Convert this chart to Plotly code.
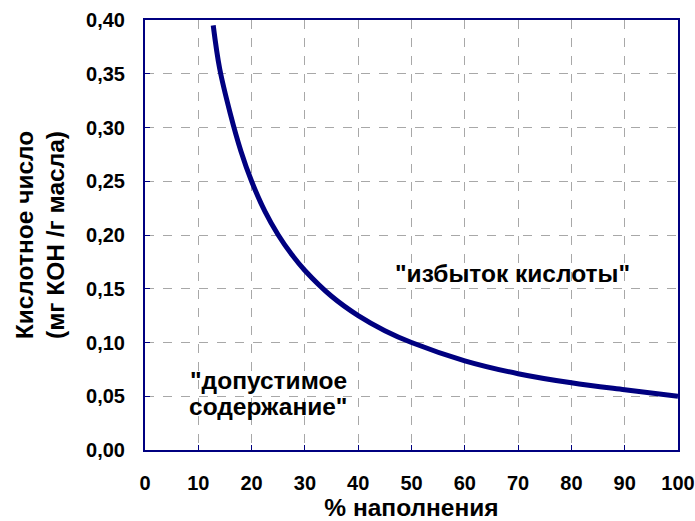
import plotly.graph_objects as go

fill_pct = [12.8, 14, 16, 18, 20, 22.5, 25, 27.5, 30, 35, 40, 45, 50, 60, 70, 80, 90, 100]
acid_num = [0.395, 0.355, 0.313, 0.278, 0.25, 0.222, 0.2, 0.182, 0.167, 0.143, 0.125,
            0.111, 0.1, 0.083, 0.071, 0.0625, 0.056, 0.05]
x_ticks = list(range(0, 101, 10))
y_ticks = [0, 0.05, 0.10, 0.15, 0.20, 0.25, 0.30, 0.35, 0.40]
y_labels = [f"{v:.2f}".replace(".", ",") for v in y_ticks]

navy = "#000080"
font = "Liberation Sans"
tick_font = dict(family=font, size=20, color="black", weight=700)
big_font = dict(family=font, size=24.5, color="black", weight=700)

fig = go.Figure()
fig.add_trace(go.Scatter(x=fill_pct, y=acid_num, mode="lines",
                         line=dict(color=navy, width=5, shape="spline"),
                         showlegend=False, hoverinfo="skip"))

fig.add_annotation(x=68.9, y=0.164, text="\"избыток кислоты\"", showarrow=False,
                   font=big_font, xanchor="center", yanchor="middle")
fig.add_annotation(x=23.1, y=0.0642, text="\"допустимое", showarrow=False,
                   font=big_font, xanchor="center", yanchor="middle")
fig.add_annotation(x=23.1, y=0.0409, text="содержание\"", showarrow=False,
                   font=big_font, xanchor="center", yanchor="middle")

fig.update_layout(
    width=695, height=521,
    margin=dict(l=145, r=17, t=20, b=71, autoexpand=False),
    paper_bgcolor="white", plot_bgcolor="white",
    font=dict(family=font, size=20, color="black"),
    xaxis=dict(range=[0, 100], tickvals=x_ticks, ticks="inside", ticklen=5,
               tickcolor=navy, showline=True, mirror=True, linecolor=navy, linewidth=2,
               showgrid=True, gridcolor="#a8a8a8", griddash="dash", gridwidth=1,
               tickfont=tick_font, ticklabelstandoff=14,
               title=dict(text="% наполнения", font=big_font, standoff=20),
               zeroline=False),
    yaxis=dict(range=[0, 0.40], tickvals=y_ticks, ticktext=y_labels, ticks="inside", ticklen=5,
               tickcolor=navy, showline=True, mirror=True, linecolor=navy, linewidth=2,
               showgrid=True, gridcolor="#a8a8a8", griddash="dash", gridwidth=1,
               tickfont=tick_font, ticklabelstandoff=14,
               title=dict(text="Кислотное число<br>(мг КОН /г масла)", font=big_font, standoff=14),
               zeroline=False),
)

fig.write_html("out.html", config={"displayModeBar": False},
               post_script="document.body.style.margin='0';document.body.style.overflow='hidden';")
